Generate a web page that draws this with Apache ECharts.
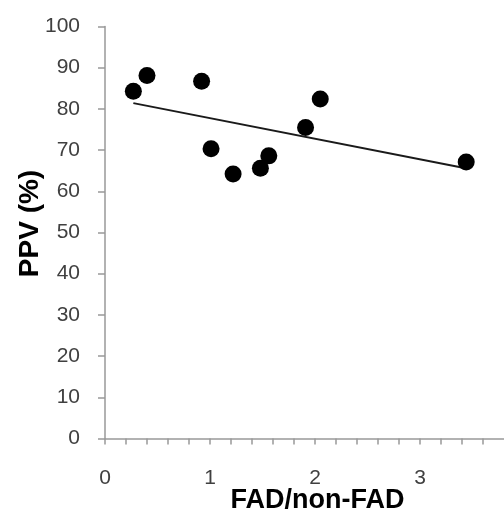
<!DOCTYPE html>
<html>
<head>
<meta charset="utf-8">
<script src="https://cdn.jsdelivr.net/npm/echarts@6/dist/echarts.min.js"></script>
<style>html,body{margin:0;padding:0;background:#fff}#c{width:504px;height:509px}</style>
</head>
<body>
<div id="c"></div>
<script>
const ratioX = [0.27, 0.40, 0.92, 1.01, 1.22, 1.48, 1.56, 1.91, 2.05, 3.44];
const ppvY   = [84.3, 88.1, 86.7, 70.3, 64.2, 65.6, 68.6, 75.5, 82.4, 67.1];
const trendX = [0.27, 3.41];
const trendY = [81.4, 65.7];
const xTitle = 'FAD/non-FAD';
const yTitle = 'PPV (%)';

const chart = echarts.init(document.getElementById('c'), null, {renderer: 'canvas'});
const txt = '#404040';
chart.setOption({
  animation: false,
  backgroundColor: '#fff',
  grid: {left: 105, top: 26.5, right: 0, bottom: 70.5, containLabel: false, outerBoundsMode: 'none'},
  xAxis: {
    type: 'value', min: 0, max: 3.8, interval: 0.2,
    name: xTitle, nameLocation: 'middle', nameGap: 49, nameMoveOverlap: false,
    nameTextStyle: {fontFamily: 'Liberation Sans', fontWeight: 'bold', fontSize: 27, color: '#000', padding: [0, 0, 0, 26]},
    axisLine: {show: true, lineStyle: {color: '#999', width: 1.5}},
    axisTick: {show: true, length: 6, lineStyle: {color: '#999', width: 1.5}},
    axisLabel: {margin: 29, fontFamily: 'Liberation Sans', fontSize: 21, color: txt, showMaxLabel: false,
      formatter: v => Math.abs(v - Math.round(v)) < 1e-6 ? String(Math.round(v)) : ''},
    splitLine: {show: false}
  },
  yAxis: {
    type: 'value', min: 0, max: 100, interval: 10,
    name: yTitle, nameLocation: 'middle', nameGap: 61, nameMoveOverlap: false,
    nameTextStyle: {fontFamily: 'Liberation Sans', fontWeight: 'bold', fontSize: 28, color: '#000', padding: [0, 0, 0, 18]},
    axisLine: {show: true, lineStyle: {color: '#999', width: 1.5}},
    axisTick: {show: true, length: 7, lineStyle: {color: '#999', width: 1.5}},
    axisLabel: {margin: 25, fontFamily: 'Liberation Sans', fontSize: 21, color: txt},
    splitLine: {show: false}
  },
  series: [
    {
      type: 'line', data: trendX.map((x, i) => [x, trendY[i]]),
      symbol: 'none', lineStyle: {color: '#1a1a1a', width: 2}, z: 2
    },
    {
      type: 'scatter', data: ratioX.map((x, i) => [x, ppvY[i]]),
      symbol: 'circle', symbolSize: 17, itemStyle: {color: '#000', opacity: 1}, z: 3
    }
  ]
});
</script>
</body>
</html>
